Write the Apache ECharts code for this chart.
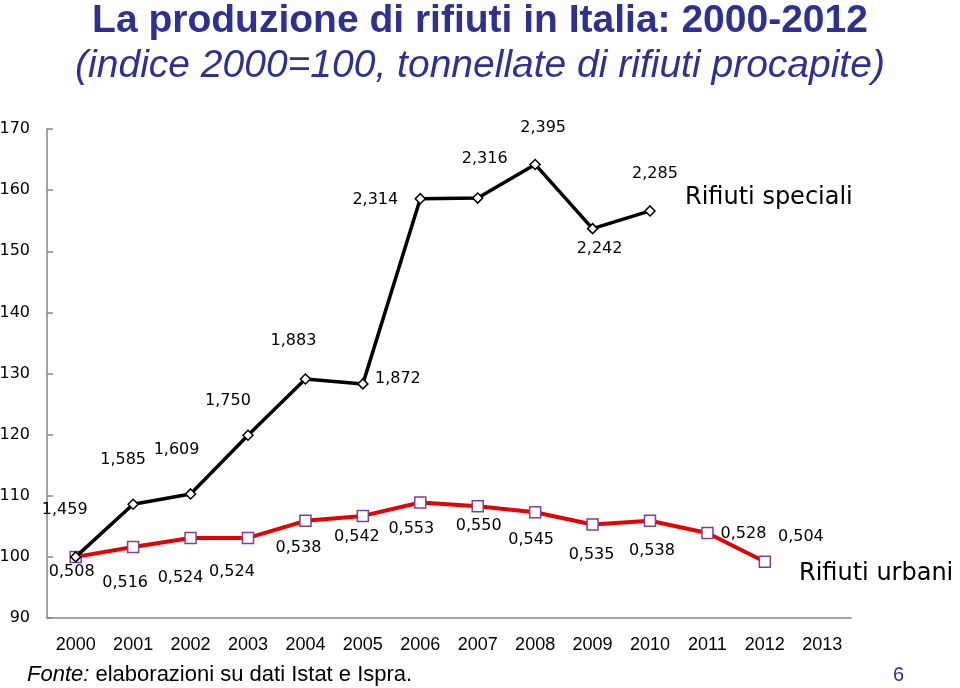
<!DOCTYPE html>
<html>
<head>
<meta charset="utf-8">
<script src="https://cdn.jsdelivr.net/npm/echarts@6/dist/echarts.min.js"></script>
<style>html,body{margin:0;padding:0;background:#fff;}#c{width:960px;height:688px;}</style>
</head>
<body>
<div id="c"></div>
<script>
// ---- data ----
const years = ['2000','2001','2002','2003','2004','2005','2006','2007','2008','2009','2010','2011','2012','2013'];
const specialiIndex = [100, 108.6, 110.3, 119.9, 129.1, 128.3, 158.6, 158.7, 164.2, 153.7, 156.6];
const specialiTonnes = ['1,459','1,585','1,609','1,750','1,883','1,872','2,314','2,316','2,395','2,242','2,285'];
const urbaniIndex = [100, 101.6, 103.1, 103.1, 105.9, 106.7, 108.9, 108.3, 107.3, 105.3, 105.9, 103.9, 99.2];
const urbaniTonnes = ['0,508','0,516','0,524','0,524','0,538','0,542','0,553','0,550','0,545','0,535','0,538','0,528','0,504'];
const yTicks = {min: 90, max: 170, interval: 10};

// ---- label placement (styling) ----
const specialiOffsets = [[-11,-47],[-10,-44],[-14,-44],[-20,-34],[-12,-38],[35,-5],[-45,1],[7,-39],[8,-37],[7,20],[5,-37]];
const urbaniOffsets = [[-4,15],[-8,36],[-10,40],[-16,34],[-7,27],[-6,21],[-9,26],[1,20],[-4,28],[-1,30],[2,30],[36,1],[36,-25]];

const labelFont = {fontFamily: 'DejaVu Sans', fontSize: 16, color: '#000'};

function build(values, texts, offsets) {
  return values.map((v, i) => ({
    value: v,
    label: {
      show: true, position: 'inside', offset: offsets[i],
      formatter: texts[i], align: 'center', verticalAlign: 'middle', ...labelFont
    }
  }));
}

const chart = echarts.init(document.getElementById('c'), null, {renderer: 'canvas'});
const blue = '#2E3192';
chart.setOption({
  animation: false,
  backgroundColor: '#fff',
  grid: {left: 47, right: 109, top: 129, bottom: 70, containLabel: false, outerBoundsMode: 'none'},
  xAxis: {
    type: 'category', data: years, boundaryGap: true,
    axisLine: {lineStyle: {color: '#868686', width: 1.5}},
    axisTick: {inside: true, length: 5, lineStyle: {color: '#868686', width: 1.5}},
    axisLabel: {margin: 18, fontFamily: 'Liberation Sans', fontSize: 18, color: '#000', interval: 0},
    splitLine: {show: false}
  },
  yAxis: {
    type: 'value', min: yTicks.min, max: yTicks.max, interval: yTicks.interval,
    axisLine: {show: true, lineStyle: {color: '#868686', width: 1.5}},
    axisTick: {show: true, inside: true, length: 6, lineStyle: {color: '#868686', width: 1.5}},
    axisLabel: {margin: 17, fontFamily: 'DejaVu Sans', fontSize: 16, color: '#000'},
    splitLine: {show: false}
  },
  series: [
    {
      name: 'Rifiuti urbani', type: 'line', z: 2,
      data: build(urbaniIndex, urbaniTonnes, urbaniOffsets),
      lineStyle: {color: '#E60000', width: 4},
      symbol: 'rect', symbolSize: 11, showAllSymbol: true,
      itemStyle: {color: '#fff', borderColor: '#7F3F98', borderWidth: 1.5}
    },
    {
      name: 'Rifiuti speciali', type: 'line', z: 3,
      data: build(specialiIndex, specialiTonnes, specialiOffsets),
      lineStyle: {color: '#000', width: 3.5},
      symbol: 'diamond', symbolSize: 10, showAllSymbol: true,
      itemStyle: {color: '#fff', borderColor: '#000', borderWidth: 1.5}
    }
  ],
  graphic: [
    {type: 'text', left: 'center', top: 2, style: {text: 'La produzione di rifiuti in Italia: 2000-2012', fontFamily: 'Liberation Sans', fontWeight: 'bold', fontSize: 39, fill: blue}},
    {type: 'text', left: 'center', top: 47, style: {text: '(indice 2000=100, tonnellate di rifiuti procapite)', fontFamily: 'Liberation Sans', fontStyle: 'italic', fontSize: 39, fill: blue}},
    {type: 'text', left: 685, top: 186, style: {text: 'Rifiuti speciali', fontFamily: 'DejaVu Sans', fontSize: 24, fill: '#000'}},
    {type: 'text', left: 799, top: 562, style: {text: 'Rifiuti urbani', fontFamily: 'DejaVu Sans', fontSize: 24, fill: '#000'}},
    {type: 'text', left: 27, top: 664, style: {
      text: '{i|Fonte:} {n|elaborazioni su dati Istat e Ispra.}',
      rich: {
        i: {fontFamily: 'Liberation Sans', fontStyle: 'italic', fontSize: 22, fill: '#000'},
        n: {fontFamily: 'Liberation Sans', fontSize: 22, fill: '#000'}
      }, fontFamily: 'Liberation Sans', fontSize: 22, fill: '#000'}},
    {type: 'text', left: 893, top: 665, style: {text: '6', fontFamily: 'Liberation Sans', fontSize: 20, fill: blue}}
  ]
});
</script>
</body>
</html>
